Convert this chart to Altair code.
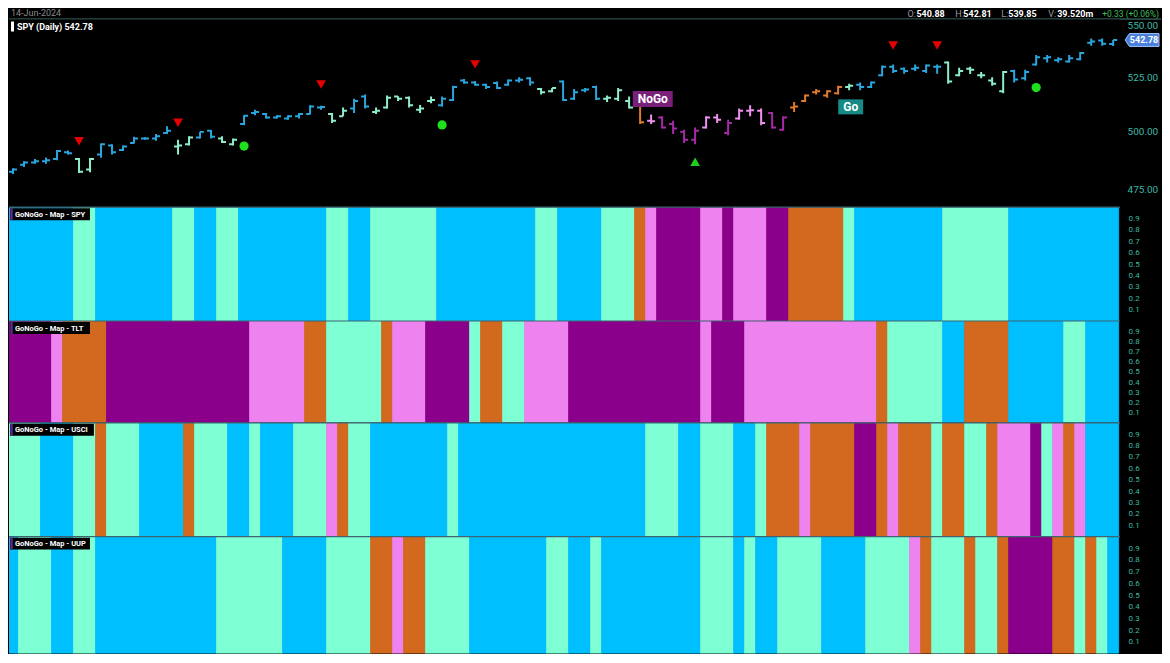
import altair as alt
import pandas as pd

# ---------------- data ----------------
ticker_title = "SPY (Daily) 542.78"
date_label = "14-Jun-2024"
header_items = [("O:", "k"), ("540.88", "v"), ("H:", "k"), ("542.81", "v"), ("L:", "k"),
                ("539.85", "v"), ("V:", "k"), ("39.520m", "v"), ("+0.33 (+0.06%)", "g")]
last_price = 542.78

opens = [482.5, 485.5, 486.5, 487.0, 488.0, 491.0, 488.0, 483.5, 490.0, 494.0,
         492.0, 495.0, 497.0, 497.0, 499.5, 493.5, 494.5, 497.5, 500.5, 497.0,
         494.5, 503.5, 508.5, 508.0, 506.5, 506.0, 507.0, 508.0, 511.0, 508.0,
         507.0, 510.5, 516.0, 509.0, 511.0, 516.0, 515.5, 510.0, 514.0, 512.0,
         514.5, 523.5, 522.5, 521.5, 522.3, 521.5, 523.5, 524.5, 519.5, 518.5,
         523.0, 515.0, 519.0, 520.5, 515.0, 515.0, 514.0, 513.0, 505.0, 506.5,
         503.5, 500.0, 496.5, 502.0, 506.5, 499.5, 506.0, 509.5, 509.5, 508.5,
         501.0, 511.0, 514.0, 518.0, 516.5, 517.5, 520.5, 521.5, 520.5, 526.0,
         530.0, 529.0, 529.0, 528.0, 530.0, 532.0, 526.0, 529.0, 526.0, 523.5,
         518.5, 528.0, 524.5, 531.0, 534.0, 533.0, 532.5, 533.5, 541.5, 542.5,
         540.88]
highs = [484.0, 487.0, 488.0, 488.7, 492.0, 491.8, 488.5, 488.5, 494.8, 494.5,
         494.0, 497.8, 497.6, 499.0, 502.5, 496.5, 498.0, 500.0, 500.8, 498.0,
         497.0, 507.5, 510.0, 508.5, 507.5, 507.5, 508.5, 512.0, 511.8, 508.5,
         511.0, 515.0, 517.0, 511.0, 516.5, 516.2, 516.0, 512.2, 516.0, 516.0,
         521.0, 524.2, 523.2, 522.0, 523.0, 524.0, 525.0, 525.0, 520.0, 520.0,
         523.5, 519.5, 520.0, 521.0, 516.5, 520.0, 516.0, 513.5, 507.8, 507.0,
         505.0, 501.0, 502.0, 507.0, 508.0, 505.5, 510.5, 512.0, 510.5, 509.0,
         507.0, 513.5, 517.0, 519.5, 519.0, 521.0, 522.0, 522.5, 523.0, 530.5,
         531.0, 529.6, 531.0, 531.0, 531.0, 532.5, 529.5, 530.0, 527.5, 525.0,
         528.0, 528.5, 528.5, 535.5, 535.5, 534.5, 535.5, 537.0, 543.5, 543.5,
         542.81]
lows = [481.5, 484.5, 486.0, 486.0, 487.5, 490.0, 482.0, 482.3, 488.6, 490.0,
        491.5, 494.8, 496.5, 496.0, 499.0, 490.0, 494.0, 497.0, 497.0, 495.0,
        494.0, 503.0, 507.5, 506.0, 506.0, 505.5, 506.0, 507.8, 510.0, 504.0,
        507.0, 508.5, 510.5, 508.0, 510.5, 514.0, 511.0, 508.5, 513.0, 511.5,
        514.0, 522.0, 521.0, 519.5, 519.5, 521.0, 522.5, 521.0, 517.0, 518.0,
        514.0, 514.5, 518.0, 514.5, 513.5, 514.0, 510.5, 503.5, 503.5, 501.5,
        499.0, 495.0, 494.5, 501.5, 504.0, 498.5, 505.5, 507.0, 503.0, 501.5,
        500.5, 509.0, 513.5, 517.0, 515.5, 517.0, 519.0, 519.0, 520.0, 525.5,
        527.0, 526.7, 528.0, 527.0, 526.7, 522.0, 525.5, 526.5, 524.5, 521.0,
        517.5, 522.5, 523.5, 530.5, 532.0, 532.0, 532.0, 533.0, 540.0, 540.0,
        539.85]
closes = [483.5, 486.5, 487.0, 487.5, 491.5, 490.5, 482.5, 488.0, 494.5, 491.0,
          493.5, 497.0, 497.0, 498.0, 500.5, 494.0, 497.5, 500.0, 497.8, 495.5,
          496.5, 507.2, 509.0, 506.5, 507.0, 507.0, 508.0, 511.5, 511.2, 505.0,
          509.5, 514.0, 511.5, 509.5, 515.5, 515.0, 512.0, 510.5, 514.5, 515.0,
          520.5, 522.5, 521.5, 520.5, 520.0, 523.5, 523.8, 522.5, 518.0, 520.0,
          514.5, 518.0, 519.3, 515.0, 515.5, 519.0, 511.0, 504.3, 504.8, 502.0,
          501.5, 496.5, 500.5, 506.5, 505.5, 504.0, 509.5, 509.8, 504.0, 502.0,
          506.5, 511.5, 516.5, 518.5, 518.5, 520.5, 521.0, 520.5, 522.5, 530.0,
          528.0, 528.0, 529.5, 530.5, 530.0, 523.0, 528.0, 528.5, 526.0, 522.0,
          527.5, 524.0, 527.5, 534.5, 534.5, 533.5, 534.0, 536.5, 542.0, 541.0,
          542.78]

# GoNoGo states: B=strong Go, A=weak Go, O=Go Fish, P=weak NoGo, M=strong NoGo
spy_runs = [("B", 6), ("A", 2), ("B", 7), ("A", 2), ("B", 2), ("A", 2), ("B", 8), ("A", 2),
            ("B", 2), ("A", 6), ("B", 9), ("A", 2), ("B", 4), ("A", 3), ("O", 1), ("P", 1),
            ("M", 4), ("P", 2), ("M", 1), ("P", 3), ("M", 2), ("O", 5), ("A", 1), ("B", 8),
            ("A", 6), ("B", 10)]
tlt_runs = [("M", 4), ("P", 1), ("O", 4), ("M", 13), ("P", 5), ("O", 2), ("A", 5), ("O", 1),
            ("P", 3), ("M", 4), ("A", 1), ("O", 2), ("A", 2), ("P", 4), ("M", 12), ("P", 1),
            ("M", 3), ("P", 12), ("O", 1), ("A", 5), ("B", 2), ("O", 4), ("B", 5), ("A", 2),
            ("B", 3)]
usci_runs = [("A", 3), ("B", 3), ("A", 2), ("O", 1), ("A", 3), ("B", 4), ("O", 1), ("A", 3),
             ("B", 2), ("A", 1), ("B", 3), ("A", 3), ("P", 1), ("O", 1), ("A", 2), ("B", 7),
             ("A", 1), ("B", 17), ("A", 3), ("B", 2), ("A", 3), ("B", 2), ("A", 1), ("O", 3),
             ("P", 1), ("O", 4), ("M", 2), ("O", 1), ("P", 1), ("O", 3), ("A", 1), ("O", 2),
             ("A", 2), ("O", 1), ("P", 3), ("M", 1), ("A", 1), ("P", 1), ("O", 1), ("P", 1),
             ("B", 3)]
uup_runs = [("B", 1), ("A", 3), ("B", 2), ("A", 2), ("B", 11), ("A", 6), ("B", 4), ("A", 4),
            ("O", 2), ("P", 1), ("O", 2), ("A", 4), ("B", 7), ("A", 2), ("B", 2), ("A", 1),
            ("B", 9), ("A", 3), ("B", 1), ("A", 1), ("B", 2), ("A", 4), ("B", 4), ("A", 4),
            ("P", 1), ("O", 1), ("A", 3), ("O", 1), ("A", 2), ("O", 1), ("M", 4), ("O", 2),
            ("A", 1), ("O", 1), ("A", 1), ("B", 1)]
map_names = ["SPY", "TLT", "USCI", "UUP"]

down_idx = [6, 15, 28, 42, 80, 84]
down_price = [495.8, 504.1, 521.6, 531.1, 540.1, 540.1]
dot_idx = [21, 39, 93]
dot_price = [493.7, 503.1, 520.2]
up_idx = [62]
up_price = [486.8]
label_text = ["NoGo", "Go"]
label_pos = [58.65, 76.64]
label_price = [514.9, 511.3]

price_ticks = [475, 500, 525, 550]
map_ticks = [0.1, 0.2, 0.3, 0.4, 0.5, 0.6, 0.7, 0.8, 0.9]

# ---------------- styles / layout ----------------
CODES = ["B", "A", "O", "P", "M"]
MAP_COLORS = ["#00BFFF", "#7FFFD4", "#D2691E", "#EE82EE", "#8B008B"]
BAR_COLORS = ["#2aa6de", "#8eeecb", "#e07a2c", "#ee90ee", "#a62aa6"]
AXIS_COLOR = "#3fb8a6"
FONT = "Roboto"
W = 1113
XDOM = [0.135, 101.126]
xs = alt.Scale(domain=XDOM, nice=False, zero=False)
H_HEADER, H_PRICE = 11, 188
MAP_HEIGHTS = [114, 102, 114, 117]


def expand(runs):
    out = []
    for code, n in runs:
        out += [code] * n
    return out


spy_codes = expand(spy_runs)
N = len(closes)
bars = pd.DataFrame({"i": list(range(N)), "o": opens, "h": highs, "l": lows,
                     "c": closes, "code": spy_codes})

# ---------------- header ----------------
hdr_layers = [
    alt.Chart(pd.DataFrame({"t": [date_label]})).mark_text(
        align="left", baseline="middle", font=FONT, fontSize=9, color="#8a8a8a"
    ).encode(text="t:N", x=alt.value(2), y=alt.value(4))
]
hdr_x = [900, 909, 948, 956, 994, 1001, 1041, 1050, 1152]
hdr_col = {"k": "#9a9a9a", "v": "#ffffff", "g": "#3fbf5a"}
for (txt, kind), hx in zip(header_items, hdr_x):
    hdr_layers.append(
        alt.Chart(pd.DataFrame({"t": [txt]})).mark_text(
            align="right" if kind == "g" else "left", baseline="middle", font=FONT,
            fontSize=8.5 if kind == "g" else 9,
            fontWeight="bold" if kind == "v" else "normal", color=hdr_col[kind]
        ).encode(text="t:N", x=alt.value(hx), y=alt.value(5))
    )
hdr_layers.append(
    alt.Chart(pd.DataFrame({"a": [0]})).mark_rule(color="#4b7c7c", strokeWidth=1).encode(
        x=alt.value(0), x2=alt.value(1154), y=alt.value(10.5))
)
header = alt.layer(*hdr_layers).properties(width=W, height=H_HEADER)

# ---------------- price panel ----------------
ysc = alt.Scale(type="log", domain=[467.45, 552.79], nice=False, zero=False)
yaxis = alt.Axis(orient="right", values=price_ticks, format=".2f", labelColor=AXIS_COLOR,
                 labelFontSize=10, labelFont=FONT, labelPadding=7, ticks=False,
                 domain=False, grid=False, title=None)
col_bar = alt.Color("code:N", scale=alt.Scale(domain=CODES, range=BAR_COLORS), legend=None)

base = alt.Chart(bars).transform_calculate(
    xc="datum.i + 0.5", xl="datum.i + 0.14", xr="datum.i + 0.86")
hl = base.mark_rule(strokeWidth=2, clip=True).encode(
    x=alt.X("xc:Q", scale=xs, axis=None),
    y=alt.Y("l:Q", scale=ysc, axis=yaxis), y2="h:Q", color=col_bar)
op = base.mark_rule(strokeWidth=2, clip=True).encode(
    x=alt.X("xl:Q", scale=xs, axis=None), x2="xc:Q",
    y=alt.Y("o:Q", scale=ysc, axis=yaxis), color=col_bar)
cl = base.mark_rule(strokeWidth=2, clip=True).encode(
    x=alt.X("xc:Q", scale=xs, axis=None), x2="xr:Q",
    y=alt.Y("c:Q", scale=ysc, axis=yaxis), color=col_bar)


def marker_layer(idx, prices, **mk):
    df = pd.DataFrame({"i": idx, "p": prices})
    return alt.Chart(df).transform_calculate(xc="datum.i + 0.5").mark_point(
        filled=True, opacity=1, **mk).encode(
        x=alt.X("xc:Q", scale=xs, axis=None),
        y=alt.Y("p:Q", scale=ysc, axis=yaxis))


downs = marker_layer(down_idx, down_price, shape="triangle-down", size=95, color="#e60000")
dots = marker_layer(dot_idx, dot_price, shape="circle", size=85, color="#1ee01e")
ups = marker_layer(up_idx, up_price, shape="triangle-up", size=95, color="#1ed01e")

label_layers = []
box_specs = {"NoGo": ("M-1,-0.4L1,-0.4L1,0.4L-1,0.4Z", 1600, "#7a1f7a"),
             "Go": ("M-1,-0.6L1,-0.6L1,0.6L-1,0.6Z", 625, "#178a87")}
for txt, pos, pr in zip(label_text, label_pos, label_price):
    path, sz, bg = box_specs[txt]
    df = pd.DataFrame({"x": [pos], "p": [pr], "t": [txt]})
    label_layers.append(alt.Chart(df).mark_point(
        shape=path, size=sz, filled=True, opacity=1, color=bg).encode(
        x=alt.X("x:Q", scale=xs, axis=None), y=alt.Y("p:Q", scale=ysc, axis=yaxis)))
    label_layers.append(alt.Chart(df).mark_text(
        font=FONT, fontSize=12, fontWeight="bold", color="white",
        align="center", baseline="middle").encode(
        x=alt.X("x:Q", scale=xs, axis=None), y=alt.Y("p:Q", scale=ysc, axis=yaxis),
        text="t:N"))

tag_df = pd.DataFrame({"p": [last_price], "t": [f"{last_price:.2f}"]})
tag = alt.Chart(tag_df).mark_point(
    shape="M-1,0L-0.74,-0.38L1,-0.38L1,0.38L-0.74,0.38Z", size=1156, filled=True,
    opacity=1, color="#4a80dc", stroke="#9cc0f5", strokeWidth=1).encode(
    x=alt.value(W + 22), y=alt.Y("p:Q", scale=ysc, axis=yaxis))
tag_txt = alt.Chart(tag_df).mark_text(
    font=FONT, fontSize=9, fontWeight="bold", color="white", align="center",
    baseline="middle").encode(x=alt.value(W + 24), y=alt.Y("p:Q", scale=ysc, axis=yaxis),
                              text="t:N")

title_bar = alt.Chart(pd.DataFrame({"a": [0]})).mark_rule(color="white", strokeWidth=3).encode(
    x=alt.value(3.5), y=alt.value(2), y2=alt.value(12))
title_txt = alt.Chart(pd.DataFrame({"t": [ticker_title]})).mark_text(
    font=FONT, fontSize=9, fontWeight="bold", color="white", align="left",
    baseline="middle").encode(text="t:N", x=alt.value(8), y=alt.value(7))

price = alt.layer(hl, op, cl, downs, dots, ups, *label_layers, tag, tag_txt,
                  title_bar, title_txt).properties(width=W, height=H_PRICE)


# ---------------- map panels ----------------
def map_panel(name, runs, height):
    rows, pos = [], 0
    for code, n in runs:
        rows.append({"start": pos, "end": pos + n, "state": code, "y0": 0.0, "y1": 1.0})
        pos += n
    df = pd.DataFrame(rows)
    sc = alt.Scale(domain=CODES, range=MAP_COLORS)
    rects = alt.Chart(df).mark_rect(clip=True, strokeWidth=0.8).encode(
        x=alt.X("start:Q", scale=xs, axis=None), x2="end:Q",
        y=alt.Y("y0:Q", scale=alt.Scale(domain=[0, 1], nice=False),
                axis=alt.Axis(orient="right", values=map_ticks, format=".1f",
                              labelColor=AXIS_COLOR, labelFontSize=8, labelFont=FONT,
                              labelPadding=8, ticks=False, domain=False, grid=False,
                              title=None)),
        y2="y1:Q",
        color=alt.Color("state:N", scale=sc, legend=None),
        stroke=alt.Stroke("state:N", scale=sc, legend=None))
    sep = alt.Chart(pd.DataFrame({"a": [0]})).mark_rule(
        color="#3e6470", strokeWidth=1.2).encode(y=alt.value(0))
    label = f"GoNoGo - Map - {name}"
    box = alt.Chart(pd.DataFrame({"a": [0]})).mark_rect(color="black").encode(
        x=alt.value(1), x2=alt.value(10 + len(label) * 3.95), y=alt.value(1), y2=alt.value(13))
    stripe = alt.Chart(pd.DataFrame({"a": [0]})).mark_rule(
        color="#5a2a8e", strokeWidth=2.5).encode(x=alt.value(2.5), y=alt.value(1), y2=alt.value(13))
    txt = alt.Chart(pd.DataFrame({"t": [label]})).mark_text(
        font=FONT, fontSize=7.5, fontWeight="bold", color="white", align="left",
        baseline="middle").encode(text="t:N", x=alt.value(6), y=alt.value(7.5))
    return alt.layer(rects, sep, box, stripe, txt).properties(width=W, height=height)


panels = [map_panel(n, r, h) for n, r, h in zip(
    map_names, [spy_runs, tlt_runs, usci_runs, uup_runs], MAP_HEIGHTS)]

chart = alt.vconcat(header, price, *panels, spacing=0, bounds="flush").properties(
    background="#000000", padding=0
).resolve_scale(color="independent", stroke="independent").configure_view(
    strokeWidth=0, fill="#000000")

chart.save("out.html", embed_options={"renderer": "svg", "actions": False})
